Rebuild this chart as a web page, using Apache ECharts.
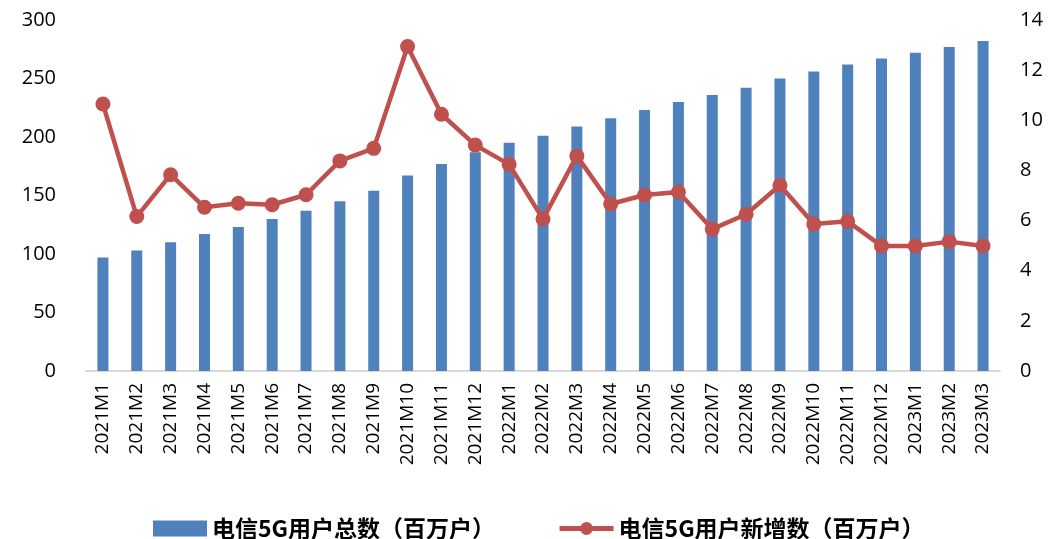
<!DOCTYPE html>
<html>
<head>
<meta charset="utf-8">
<script src="https://cdn.jsdelivr.net/npm/echarts@6/dist/echarts.min.js"></script>
<style>
  html, body { margin: 0; padding: 0; background: #fff; }
  #main { width: 1062px; height: 539px; }
</style>
</head>
<body>
<div id="main"></div>
<script>
// 月份
const months = [
  "2021M1", "2021M2", "2021M3", "2021M4", "2021M5", "2021M6", "2021M7",
  "2021M8", "2021M9", "2021M10", "2021M11", "2021M12",
  "2022M1", "2022M2", "2022M3", "2022M4", "2022M5", "2022M6", "2022M7",
  "2022M8", "2022M9", "2022M10", "2022M11", "2022M12",
  "2023M1", "2023M2", "2023M3"
];
// 电信5G用户总数（百万户）
const totalUsers = [
  97, 103, 110, 117, 123, 130, 137, 145, 154, 167, 177, 187,
  195, 201, 209, 216, 223, 230, 236, 242, 250, 256, 262, 267,
  272, 277, 282
];
// 电信5G用户新增数（百万户）
const newUsers = [
  10.65, 6.16, 7.83, 6.53, 6.69, 6.63, 7.03, 8.38, 8.88, 12.94, 10.24, 9.01,
  8.24, 6.06, 8.58, 6.66, 7.02, 7.14, 5.66, 6.25, 7.41, 5.86, 5.97, 4.99,
  4.99, 5.16, 4.99
];

const font = "'Open Sans', 'Noto Sans CJK SC', sans-serif";

const option = {
  animation: false,
  textStyle: { fontFamily: font },
  grid: { left: 86, right: 62, top: 20, bottom: 168 },
  legend: {
    top: 512,
    left: 148,
    itemGap: 62,
    itemWidth: 54,
    itemHeight: 16,
    lineStyle: { width: 5 },
    textStyle: {
      fontSize: 23, color: "#000", fontWeight: "bold",
      fontFamily: "'Noto Sans CJK SC', sans-serif"
    },
    data: [
      { name: "电信5G用户总数（百万户）", icon: "rect", itemHeight: 15 },
      { name: "电信5G用户新增数（百万户）" }
    ]
  },
  xAxis: {
    type: "category",
    data: months,
    axisLine: { lineStyle: { color: "#d9d9d9", width: 2 } },
    axisTick: { show: false },
    axisLabel: { rotate: 90, fontSize: 19, color: "#000", margin: 12, interval: 0 }
  },
  yAxis: [
    {
      type: "value",
      min: 0, max: 300, interval: 50,
      splitLine: { show: false },
      axisLine: { show: false },
      axisTick: { show: false },
      axisLabel: { fontSize: 20, color: "#000", margin: 30 }
    },
    {
      type: "value",
      min: 0, max: 14, interval: 2,
      splitLine: { show: false },
      axisLine: { show: false },
      axisTick: { show: false },
      axisLabel: { fontSize: 20, color: "#000", margin: 20 }
    }
  ],
  series: [
    {
      name: "电信5G用户总数（百万户）",
      type: "bar",
      yAxisIndex: 0,
      barWidth: 11,
      itemStyle: { color: "#4f81bd" },
      data: totalUsers
    },
    {
      name: "电信5G用户新增数（百万户）",
      type: "line",
      yAxisIndex: 1,
      symbol: "circle",
      symbolSize: 15,
      lineStyle: { color: "#c0504d", width: 4.5 },
      itemStyle: { color: "#c0504d" },
      data: newUsers
    }
  ]
};

const myChart = echarts.init(document.getElementById("main"));
myChart.setOption(option);
</script>
</body>
</html>
